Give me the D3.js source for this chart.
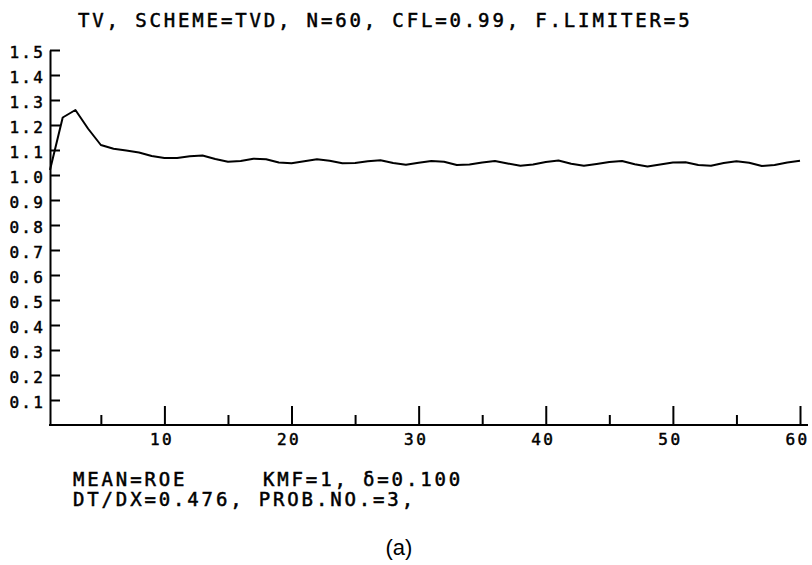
<!DOCTYPE html>
<html>
<head>
<meta charset="utf-8">
<script src="https://cdn.jsdelivr.net/npm/d3@7/dist/d3.min.js"></script>
<style>
  html, body { margin: 0; padding: 0; background: #fff; }
  svg { display: block; }
  .plot { font-family: "DejaVu Sans Mono", "Liberation Mono", monospace; fill: #000; }
</style>
</head>
<body>
<svg id="chart" width="812" height="565"></svg>
<script>
// ---- data ----
const titleText = "TV, SCHEME=TVD, N=60, CFL=0.99, F.LIMITER=5";
const footLine1a = "MEAN=ROE";
const footLine1b = "KMF=1, δ=0.100";
const footLine2 = "DT/DX=0.476, PROB.NO.=3,";
const caption = "(a)";

const yTicks = [0.1, 0.2, 0.3, 0.4, 0.5, 0.6, 0.7, 0.8, 0.9, 1.0, 1.1, 1.2, 1.3, 1.4, 1.5];
const xMajorTicks = [10, 20, 30, 40, 50, 60];
const xMinorTicks = [5, 15, 25, 35, 45, 55];

const values = [
  1.020, 1.230, 1.260, 1.185, 1.120, 1.105, 1.098, 1.090, 1.076, 1.068,
  1.068, 1.075, 1.078, 1.064, 1.053, 1.056, 1.065, 1.063, 1.050, 1.047,
  1.055, 1.063, 1.057, 1.047, 1.048, 1.055, 1.059, 1.048, 1.041, 1.049,
  1.056, 1.053, 1.040, 1.042, 1.050, 1.056, 1.046, 1.037, 1.042, 1.052,
  1.058, 1.045, 1.037, 1.044, 1.052, 1.056, 1.043, 1.034, 1.042, 1.050,
  1.051, 1.040, 1.037, 1.048, 1.055, 1.049, 1.036, 1.040, 1.050, 1.057
];

// ---- drawing ----
const svg = d3.select("#chart");
const x = d3.scaleLinear().domain([1, 60]).range([50, 800]);
const y = d3.scaleLinear().domain([0, 1.5]).range([425, 50]);

const g = svg.append("g").attr("class", "plot");

// Y axis (ticks point inward)
const yAxis = g.append("g")
  .attr("transform", `translate(${x(1)},0)`)
  .call(d3.axisLeft(y).tickValues(yTicks).tickSize(-10).tickSizeOuter(0)
        .tickFormat(d3.format(".1f")).tickPadding(5));
yAxis.select(".domain").attr("stroke", "#000").attr("stroke-width", 2);
yAxis.selectAll(".tick line").attr("stroke", "#000").attr("stroke-width", 2);
yAxis.selectAll(".tick text")
  .attr("font-family", "DejaVu Sans Mono")
  .attr("font-size", 16)
  .attr("letter-spacing", "2.2px")
  .attr("fill", "#000")
  .attr("stroke", "#000")
  .attr("stroke-width", 0.5)
  .attr("dy", "0.45em");

// X axis: minor ticks
const xMinor = g.append("g")
  .attr("transform", `translate(0,${y(0)})`)
  .call(d3.axisBottom(x).tickValues(xMinorTicks).tickSize(-10).tickSizeOuter(0).tickFormat(""));
xMinor.select(".domain").remove();
xMinor.selectAll(".tick line").attr("stroke", "#000").attr("stroke-width", 2);

// X axis: major ticks with labels
const xMajor = g.append("g")
  .attr("transform", `translate(0,${y(0)})`)
  .call(d3.axisBottom(x).tickValues(xMajorTicks).tickSize(-19).tickSizeOuter(0)
        .tickFormat(d3.format("d")).tickPadding(9));
xMajor.select(".domain").remove();
xMajor.selectAll(".tick line").attr("stroke", "#000").attr("stroke-width", 2);
xMajor.selectAll(".tick text")
  .attr("font-family", "DejaVu Sans Mono")
  .attr("font-size", 16)
  .attr("letter-spacing", "2.4px")
  .attr("fill", "#000")
  .attr("stroke", "#000")
  .attr("stroke-width", 0.5)
  .attr("dx", -3);

// X axis baseline
g.append("line")
  .attr("x1", x(1) - 1).attr("x2", x(60) + 8)
  .attr("y1", y(0)).attr("y2", y(0))
  .attr("stroke", "#000").attr("stroke-width", 2);

// Data line
const line = d3.line()
  .x((d, i) => x(i + 1))
  .y(d => y(d));
g.append("path")
  .datum(values)
  .attr("d", line)
  .attr("fill", "none")
  .attr("stroke", "#000")
  .attr("stroke-width", 2)
  .attr("stroke-linejoin", "round");

// Texts
const txt = (s, tx, ty, opts = {}) => g.append("text")
  .attr("x", tx).attr("y", ty)
  .attr("font-family", opts.family || "DejaVu Sans Mono")
  .attr("font-size", opts.size || 19)
  .attr("letter-spacing", opts.ls !== undefined ? opts.ls : "2.85px")
  .attr("text-anchor", opts.anchor || "start")
  .attr("fill", "#000")
  .attr("stroke", opts.stroke === false ? "none" : "#000")
  .attr("stroke-width", 0.5)
  .text(s);

txt(titleText, 78, 27);
txt(footLine1a, 73, 486);
txt(footLine1b, 263, 486);
txt(footLine2, 73, 506);
txt(caption, 399, 555, { family: "Liberation Sans", size: 22, ls: 0, anchor: "middle", stroke: false });
</script>
</body>
</html>
